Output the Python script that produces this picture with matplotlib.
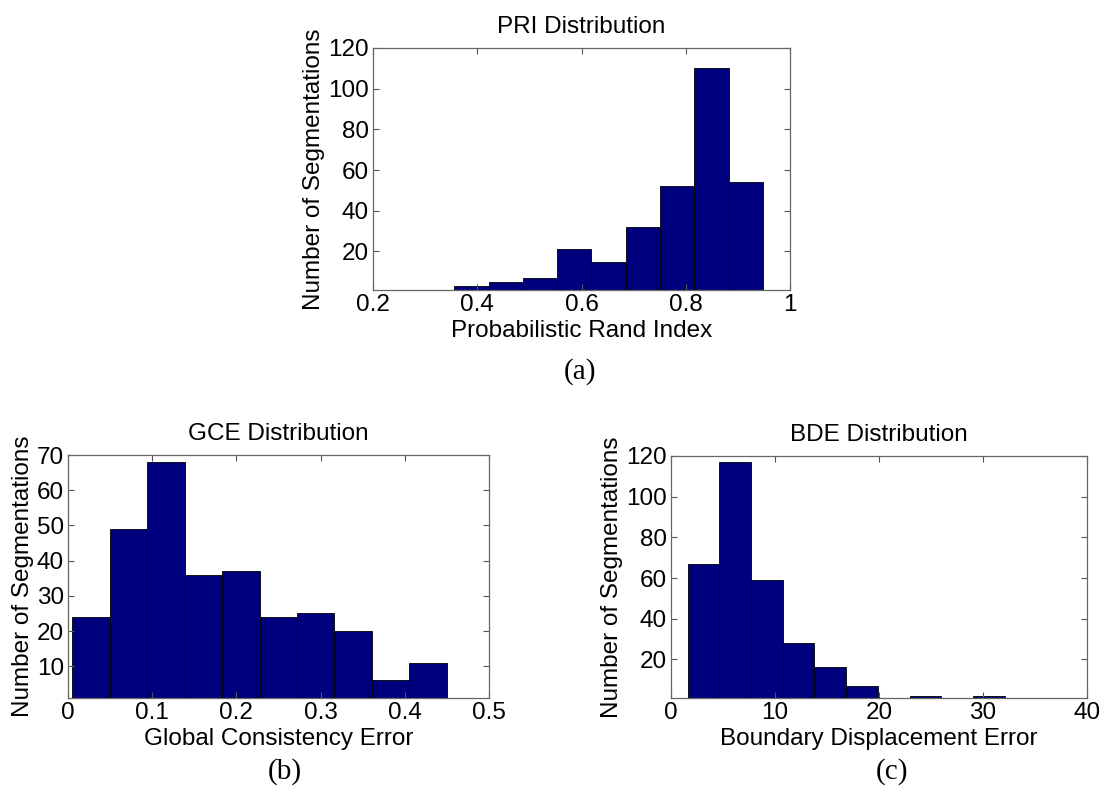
import numpy as np
import matplotlib
matplotlib.use("Agg")
import matplotlib.pyplot as plt

# histogram data (counts per bin, first edge, bin width)
pri_counts = [0, 3, 5, 7, 21, 15, 32, 52, 110, 54]
pri_start, pri_width = 0.29, 0.0658

gce_counts = [24, 49, 68, 36, 37, 24, 25, 20, 6, 11]
gce_start, gce_width = 0.005, 0.0445

bde_counts = [67, 117, 59, 28, 16, 7, 0, 2, 0, 2]
bde_start, bde_width = 1.6, 3.048

W, H = 1105, 793
BAR = "#00007f"
SANS = ["Liberation Sans", "DejaVu Sans"]
SERIF = ["Liberation Serif", "DejaVu Serif"]
FS = 17.5

fig = plt.figure(figsize=(W / 100, H / 100), dpi=100)


def px_axes(left, top, right, bottom):
    return fig.add_axes([left / W, 1 - bottom / H, (right - left) / W, (bottom - top) / H])


def draw(ax, counts, start, width, xlim, ylim, xticks, yticks, title, xlabel):
    edges = start + width * np.arange(len(counts))
    ax.bar(edges, counts, width=width, align="edge", color=BAR,
           edgecolor="black", linewidth=0.6)
    ax.set_xlim(*xlim)
    ax.set_ylim(*ylim)
    ax.set_xticks(xticks)
    ax.set_yticks(yticks)
    ax.set_xticklabels([f"{t:g}" for t in xticks], family=SANS, fontsize=FS)
    ax.set_yticklabels([f"{t:g}" for t in yticks], family=SANS, fontsize=FS)
    ax.tick_params(direction="in", top=True, right=True, length=4, width=0.8,
                   color="#555555", pad=3)
    for s in ax.spines.values():
        s.set_color("#666666")
        s.set_linewidth(0.9)
    ax.set_title(title, family=SANS, fontsize=FS, pad=11)
    ax.set_xlabel(xlabel, family=SANS, fontsize=FS, labelpad=3)
    ax.set_ylabel("Number of Segmentations", family=SANS, fontsize=FS, labelpad=2)


ax_a = px_axes(373, 48, 790, 290)
draw(ax_a, pri_counts, pri_start, pri_width, (0.2, 1.0), (1, 120),
     [0.2, 0.4, 0.6, 0.8, 1.0], [20, 40, 60, 80, 100, 120],
     "PRI Distribution", "Probabilistic Rand Index")

ax_b = px_axes(68, 455, 489, 698)
draw(ax_b, gce_counts, gce_start, gce_width, (0, 0.5), (1, 70),
     [0, 0.1, 0.2, 0.3, 0.4, 0.5], [10, 20, 30, 40, 50, 60, 70],
     "GCE Distribution", "Global Consistency Error")

ax_c = px_axes(671, 456, 1087, 698)
draw(ax_c, bde_counts, bde_start, bde_width, (0, 40), (1, 120),
     [0, 10, 20, 30, 40], [20, 40, 60, 80, 100, 120],
     "BDE Distribution", "Boundary Displacement Error")

for label, x, y in [("(a)", 580, 372), ("(b)", 285, 772), ("(c)", 892, 772)]:
    fig.text(x / W, 1 - y / H, label, family=SERIF, fontsize=21,
             ha="center", va="center")

fig.savefig("out.png", dpi=100)
